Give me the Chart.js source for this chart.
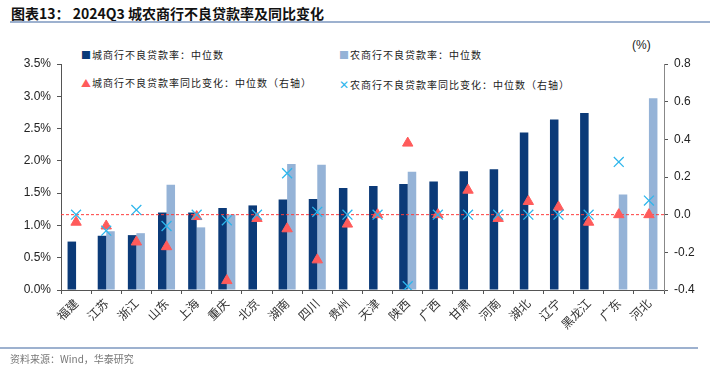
<!DOCTYPE html>
<html>
<head>
<meta charset="utf-8">
<script src="https://cdn.jsdelivr.net/npm/chart.js@4.4.1/dist/chart.umd.min.js"></script>
<style>
body{margin:0;background:#fff;font-family:"Noto Sans CJK SC",sans-serif}
#wrap{position:relative;width:720px;height:368px;overflow:hidden}
#canvas{position:absolute;left:0;top:0}
.title{position:absolute;left:11px;top:3px;font-size:14px;font-weight:bold;color:#111;white-space:nowrap}
.rule{position:absolute;left:10px;width:700px;height:2px;background:#9db1cf}
.leg{position:absolute;font-size:10px;letter-spacing:1px;color:#222;white-space:nowrap}
.unit{position:absolute;left:632px;top:38px;font:12px "Liberation Sans",Arial,sans-serif;color:#222}
.src{position:absolute;left:10px;top:351px;font-size:10px;color:#777;white-space:nowrap}
</style>
</head>
<body>
<div id="wrap">
<div class="title">图表13：&nbsp;2024Q3 城农商行不良贷款率及同比变化</div>
<div class="rule" style="top:21px"></div>
<div class="leg" style="left:81px;top:47px"><span style="color:#0b3a78">■</span>城商行不良贷款率：中位数</div>
<div class="leg" style="left:339px;top:47px"><span style="color:#95b3d7">■</span>农商行不良贷款率：中位数</div>
<div class="leg" style="left:81px;top:75px"><span style="color:#ff5b5b">▲</span>城商行不良贷款率同比变化：中位数（右轴）</div>
<div class="leg" style="left:339px;top:75px"><span style="color:#2eb6ec;font-size:12px">✕</span>农商行不良贷款率同比变化：中位数（右轴）</div>
<div class="unit">(%)</div>
<canvas id="canvas" width="720" height="368"></canvas>
<div class="rule" style="top:347px;left:0;width:698px"></div>
<div class="src">资料来源：Wind，华泰研究</div>
</div>
<script>
let provinces=['福建','江苏','浙江','山东','上海','重庆','北京','湖南','四川','贵州','天津','陕西','广西','甘肃','河南','湖北','辽宁','黑龙江','广东','河北']
// 不良贷款率 (%)，左轴
let cityRate=[0.75,0.84,0.85,1.20,1.20,1.27,1.31,1.40,1.41,1.58,1.61,1.64,1.68,1.84,1.87,2.44,2.64,2.74,null,null]
let ruralRate=[null,0.91,0.88,1.63,0.97,1.17,null,1.95,1.94,null,null,1.83,null,null,null,null,null,null,1.48,2.97]
// 同比变化 (pct)，右轴
let cityChg=[-0.04,-0.06,-0.145,-0.17,-0.01,-0.35,-0.02,-0.075,-0.24,-0.05,0.0,0.38,0.0,0.13,-0.02,0.07,0.04,-0.04,0.0,0.0]
let ruralChg=[0.0,-0.085,0.025,-0.06,0.0,-0.03,0.0,0.22,0.015,0.0,0.0,-0.38,0.0,0.0,0.0,0.0,0.0,0.0,0.28,0.075]

let canvas=document.getElementById('canvas')
let tickFont={family:'"Liberation Sans", Arial, sans-serif',size:12}

// 右轴 0 处的红色虚线，画在柱子之上、标记之下
let zeroLine={
    id:'zeroLine',
    afterDatasetDraw(chart,args){
        if(args.index!==0) return
        let ctx=chart.ctx
        let y=chart.scales.y2.getPixelForValue(0)
        ctx.save()
        ctx.strokeStyle='#ff3b3b'
        ctx.lineWidth=1
        ctx.setLineDash([3,2])
        ctx.beginPath()
        ctx.moveTo(chart.chartArea.left,y)
        ctx.lineTo(chart.chartArea.right,y)
        ctx.stroke()
        ctx.restore()
    }
}

new Chart(canvas,{
    type:'bar',
    data:{
        labels:provinces,
        datasets:[
            {label:'城商行不良贷款率：中位数',data:cityRate,backgroundColor:'#0b3a78',yAxisID:'y',order:3,
             categoryPercentage:0.565,barPercentage:1},
            {label:'农商行不良贷款率：中位数',data:ruralRate,backgroundColor:'#95b3d7',yAxisID:'y',order:4,
             categoryPercentage:0.565,barPercentage:1},
            {type:'line',label:'城商行不良贷款率同比变化：中位数（右轴）',data:cityChg,yAxisID:'y2',showLine:false,
             pointStyle:'triangle',pointRadius:6,backgroundColor:'#ff5b5b',borderColor:'#ff5b5b',borderWidth:1,order:1},
            {type:'line',label:'农商行不良贷款率同比变化：中位数（右轴）',data:ruralChg,yAxisID:'y2',showLine:false,
             pointStyle:'crossRot',pointRadius:7,borderColor:'#2eb6ec',backgroundColor:'#2eb6ec',borderWidth:1.3,order:0}
        ]
    },
    plugins:[zeroLine],
    options:{
        responsive:false,
        animation:false,
        layout:{padding:{top:64,left:0,right:0,bottom:0}},
        plugins:{legend:{display:false},tooltip:{enabled:false}},
        scales:{
            x:{
                grid:{display:true,drawOnChartArea:false,drawTicks:true,tickLength:4,offset:true,color:'#555'},
                border:{color:'#555',width:1},
                ticks:{maxRotation:45,minRotation:45,autoSkip:false,color:'#333',padding:2,
                       font:{family:'"Noto Sans CJK SC", sans-serif',size:12}},
                afterFit(s){s.height=78}
            },
            y:{
                position:'left',min:0,max:3.5,
                grid:{display:true,drawOnChartArea:false,drawTicks:true,tickLength:4,color:'#555'},
                border:{color:'#555',width:1},
                ticks:{stepSize:0.5,color:'#222',font:tickFont,padding:6,callback:v=>v.toFixed(1)+'%'},
                afterFit(s){s.width=61}
            },
            y2:{
                position:'right',min:-0.4,max:0.8,
                grid:{display:true,drawOnChartArea:false,drawTicks:true,tickLength:4,color:'#555'},
                border:{color:'#888',width:1},
                ticks:{stepSize:0.2,color:'#222',font:tickFont,padding:6,callback:v=>v.toFixed(1)},
                afterFit(s){s.width=56}
            }
        }
    }
})
</script>
</body>
</html>
